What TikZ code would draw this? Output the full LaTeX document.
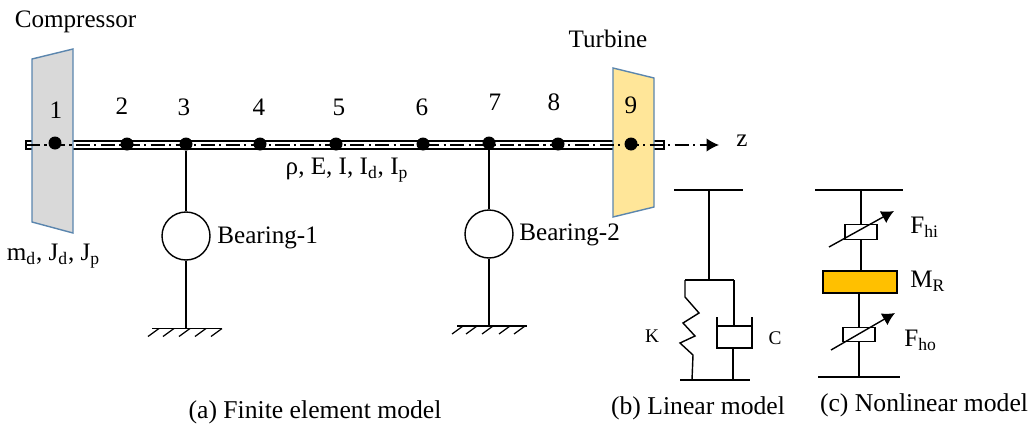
\documentclass[tikz,border=0pt]{standalone}
\usepackage{fontspec}
\setmainfont{Liberation Serif}
\usetikzlibrary{arrows.meta,positioning}
\definecolor{diskblue}{HTML}{5B86AE}
\definecolor{diskgray}{HTML}{D9D9D9}
\definecolor{diskyellow}{HTML}{FFE699}
\definecolor{massorange}{HTML}{FFC000}

\begin{document}
\begin{tikzpicture}[
  x=0.02cm, y=-0.02cm,
  txt/.style={inner sep=0pt, font=\fontsize{14.3}{16}\selectfont},
  smalltxt/.style={inner sep=0pt, font=\fontsize{11}{12}\selectfont},
  bigdot/.style={circle, fill=black, inner sep=0pt, minimum size=0.26cm},
  bearing/.style={circle, draw, line width=0.8pt, fill=white, inner sep=0pt, minimum size=0.96cm},
  disk/.style={draw=diskblue, line width=0.8pt},
  wire/.style={draw, line width=0.8pt},
  centerline/.style={line width=0.7pt, dash pattern=on 8pt off 2.5pt on 1.2pt off 2.5pt},
  hyst/.style={draw, line width=0.8pt, fill=white, inner sep=0pt, minimum width=0.64cm, minimum height=0.29cm},
  massbox/.style={draw, line width=0.8pt, fill=massorange, inner sep=0pt, minimum width=1.48cm, minimum height=0.44cm},
  varrow/.style={-{Latex[length=2.5mm, width=2.7mm]}, line width=0.8pt}
]
\useasboundingbox (0,0) rectangle (1030,423);

% shaft
\coordinate (shaftL) at (26,141);
\coordinate (shaftR) at (664,149);
\draw[line width=1pt] (shaftL) rectangle (shaftR);

% disks
\draw[disk, fill=diskgray] (32,59) -- (73,49) -- (73,233) -- (32,222) -- cycle;
\draw[disk, fill=diskyellow] (613,68) -- (654,78) -- (654,207) -- (613,217) -- cycle;
\coordinate (axisL) at (26,145);
\coordinate (axisR) at (719,145);
\draw[centerline, varrow] (axisL) -- (axisR);

% nodes on the shaft
\foreach \name/\x/\y/\tx/\ty in {1/55/143/56/110, 2/127/144/122/106, 3/186/144/184/107,
  4/260/144/259/107, 5/336/144/339/107, 6/423/144/422/107, 7/489/143/495/102,
  8/558/144/554/102, 9/631/144/631/105} {
  \node[bigdot] (n\name) at (\x,\y) {};
  \node[txt] (num\name) at (\tx,\ty) {\name};
}

% texts of the finite element model
\node[txt] (compressor) at (75.5,22) {Compressor};
\node[txt] (turbine) at (608,39) {Turbine};
\node[txt] (zlabel) at (742,141) {z};
\node[txt] (shaftprops) at (347,170) {ρ, E, I, I\textsubscript{d}, I\textsubscript{p}};
\node[txt] (diskprops) at (53.5,256) {m\textsubscript{d}, J\textsubscript{d}, J\textsubscript{p}};

% bearings
\node[bearing] (bearingA) at (186,236) {};
\node[txt, anchor=west] (bearingAtxt) at (217,238) {Bearing-1};
\node[bearing] (bearingB) at (489,234) {};
\node[txt, anchor=west] (bearingBtxt) at (519,235) {Bearing-2};
\coordinate (groundA) at (186,328.5);
\coordinate (groundB) at (489,326);
\draw[wire] (n3) -- (bearingA) -- (groundA);
\draw[wire] (n7) -- (bearingB) -- (groundB);
\draw[wire] (152,328.5) -- (222,328.5);
\draw[wire] (457,326) -- (527,326);
\foreach \x in {159,174,190,206,222} \draw[line width=0.7pt] (\x,328.5) -- ++(-11,8);
\foreach \x in {463,477,493,510,525} \draw[line width=0.7pt] (\x,326) -- ++(-11,8);

% linear model
\coordinate (linTop) at (709,190);
\coordinate (linFork) at (709,280);
\coordinate (springTop) at (685,280);
\coordinate (damperTop) at (734,280);
\coordinate (pistonMid) at (734,326);
\coordinate (damperBot) at (733,348);
\coordinate (linBotA) at (692,380);
\coordinate (linBotB) at (733,380);
\draw[wire] (674,190) -- (743,190);
\draw[wire] (linTop) -- (linFork);
\draw[wire] (springTop) -- (damperTop);
\draw[wire] (springTop) -- (685,297) -- (699,313) -- (683,323) -- (695,336) -- (680,343) -- (693,355) -- (linBotA);
\draw[wire] (damperTop) -- (pistonMid);
\draw[wire] (717,317) -- (717,348) -- (752,348) -- (752,317);
\draw[wire] (717,326) -- (752,326);
\draw[wire] (damperBot) -- (linBotB);
\draw[wire] (680,380) -- (750,380);
\node[smalltxt] (ktxt) at (652,336) {K};
\node[smalltxt] (ctxt) at (775,338) {C};

% nonlinear model
\node[hyst] (fhi) at (861,232) {};
\node[hyst] (fho) at (859,334.5) {};
\node[massbox] (massR) at (860,282) {};
\coordinate (nlTop) at (861,190);
\coordinate (nlBot) at (859,377);
\draw[wire] (815,190) -- (903,190);
\draw[wire] (818,377) -- (900,377);
\draw[wire] (nlTop) -- (fhi.north);
\draw[wire] (fhi.south) -- (fhi.south |- massR.north);
\draw[wire] (fho.north |- massR.south) -- (fho.north);
\draw[wire] (fho.south) -- (nlBot);
\draw[varrow] (829,247) -- (894,211);
\draw[varrow] (831,350) -- (895,313);
\node[txt, anchor=west] (fhitxt) at (910,227) {F\textsubscript{hi}};
\node[txt, anchor=west] (mrtxt) at (910,281) {M\textsubscript{R}};
\node[txt, anchor=west] (fhotxt) at (904,340) {F\textsubscript{ho}};

% captions
\node[txt] (capA) at (315,412) {\fontsize{14.6}{16}\selectfont (a) Finite element model};
\node[txt] (capB) at (698,408) {\fontsize{14.6}{16}\selectfont (b) Linear model};
\node[txt] (capC) at (924,405) {\fontsize{14.6}{16}\selectfont (c) Nonlinear model};
\end{tikzpicture}
\end{document}
